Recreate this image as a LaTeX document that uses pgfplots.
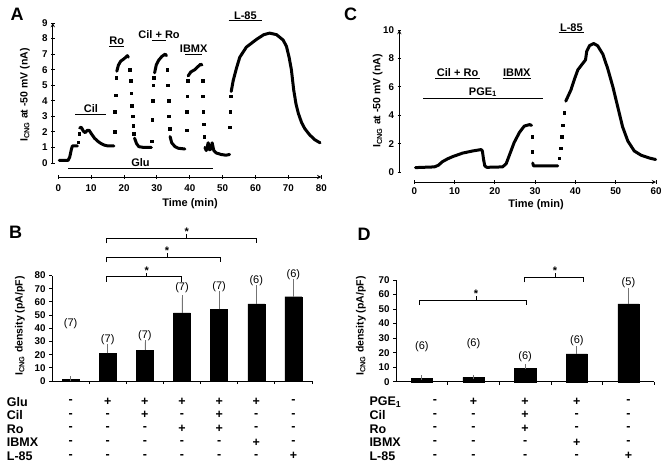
\documentclass[border=0pt]{standalone}
\usepackage{fontspec}
\setmainfont{Liberation Sans}
\usepackage{pgfplots}
\pgfplotsset{compat=1.18}

\newcommand{\tl}{\bfseries\fontsize{9.8}{10}\selectfont}
\newcommand{\an}{\bfseries\fontsize{11}{12}\selectfont}
\newcommand{\tb}{\bfseries\fontsize{12.5}{13}\selectfont}
\newcommand{\yl}{\bfseries\fontsize{10.5}{11}\selectfont}
\newcommand{\nn}{\fontsize{11}{12}\selectfont}
\newcommand{\pl}{\bfseries\fontsize{18}{18}\selectfont}

\pgfplotsset{
  panel/.style={
    scale only axis, anchor=south west, clip=false,
    axis lines=left, axis line style={-, line width=0.9pt},
    tick align=outside, major tick length=3.5pt,
    every tick/.style={black, line width=0.9pt},
    tick label style={font=\tl},
    /pgf/number format/assume math mode=true,
  },
  % detached time axis drawn below a trace panel
  timeaxis/.style={panel, height=10pt, ymin=0, ymax=1,
    axis x line=bottom, axis y line=none},
  trace/.style={black, line width=3pt, line join=round, line cap=round},
  dots/.style={black, only marks, mark=square*, mark size=1.3pt},
  bars/.style={ybar, fill=black, draw=black,
    error bars/.cd, y dir=plus, y explicit,
    error bar style={black!55, line width=0.7pt},
    error mark options={black!55, line width=0.7pt, mark size=2.2pt}},
}

% significance bracket: x1, x2, y, x of centre tick
\newcommand{\brk}[4]{%
  \draw[line width=0.8pt] ([yshift=-5pt]axis cs:#1,#3) -- (axis cs:#1,#3)
     -- (axis cs:#2,#3) -- ([yshift=-5pt]axis cs:#2,#3);
  \draw[line width=0.8pt] (axis cs:#4,#3) -- ([yshift=4pt]axis cs:#4,#3);
  \node[font=\bfseries\fontsize{11}{11}\selectfont, inner sep=0pt, anchor=base]
     at ([yshift=2.5pt]axis cs:#4,#3) {*};}

% drug application bar: x1, x2, y, label
\newcommand{\drugbar}[4]{%
  \draw[line width=1pt] (axis cs:#1,#3) -- (axis cs:#2,#3);
  \node[font=\an, anchor=south, inner sep=1.2pt] at (axis cs:{(#1+#2)/2},#3) {#4};}

\begin{document}
\begin{tikzpicture}[x=1pt,y=1pt]

% ---------------- A ----------------
\begin{axis}[panel, at={(52.8pt,-163pt)}, width=268.5pt, height=140pt,
  xmin=-1.67, xmax=80, ymin=0, ymax=9, ytick={0,1,...,9},
  axis x line=none, axis y line=left]
\addplot[trace] coordinates {(0.3,0.17) (3.0,0.17) (3.5,0.4) (4.0,0.9) (4.3,1.1) (5.8,1.1)};
\addplot[dots] coordinates {(6.1,1.35) (6.3,1.9)};
\addplot[trace] coordinates {(6.5,2.25) (7.0,2.3) (7.6,2.05) (8.2,1.95) (8.8,2.1) (9.4,2.1)
  (10.0,1.9) (11,1.6) (12,1.4) (13,1.25) (14,1.15) (15,1.1) (16.9,1.1)};
\addplot[dots] coordinates {(17.2,2.0) (17.2,3.3) (17.4,4.35) (17.6,5.5)};
\addplot[trace] coordinates {(17.8,5.9) (18.3,6.3) (19,6.55) (20,6.7) (20.5,6.8) (21.0,6.9) (21.3,6.8)};
\addplot[dots] coordinates {(21.8,6.0) (22.0,5.3) (22.2,4.5) (22.4,3.7) (22.6,3.0) (22.8,2.4) (23.0,1.9)};
\addplot[trace] coordinates {(23.2,1.6) (23.8,1.25) (24.5,1.05) (26,1.0) (28.3,1.0)};
\addplot[dots] coordinates {(28.5,1.4) (28.6,2.8) (28.7,4.0) (28.9,5.0) (29.1,5.5)};
\addplot[trace] coordinates {(29.3,5.8) (29.8,6.3) (30.5,6.6) (31.5,6.85) (32.5,7.0) (32.9,6.9)};
\addplot[dots] coordinates {(33.1,6.0) (33.3,5.0) (33.5,4.0) (33.6,3.0) (33.8,2.2)};
\addplot[trace] coordinates {(34.0,1.7) (34.5,1.3) (35.5,1.05) (36.5,0.95) (38.5,0.9)};
\addplot[dots] coordinates {(39.0,2.1) (39.1,3.3) (39.2,4.3) (39.3,5.3)};
\addplot[trace] coordinates {(39.5,5.6) (40.3,5.85) (41.5,6.0) (42.5,6.2) (43.3,6.35) (43.7,6.3)};
\addplot[dots] coordinates {(43.9,5.3) (44.0,4.3) (44.1,3.3) (44.2,2.5) (44.4,1.7)};
\addplot[trace] coordinates {(44.6,1.0) (45.0,0.8) (45.6,1.3) (46.0,0.85) (46.4,0.9) (46.8,1.3)
  (47.3,0.8) (48,0.65) (49.5,0.55) (51,0.5) (52.1,0.55)};
\addplot[dots] coordinates {(52.2,2.3) (52.3,3.3) (52.4,4.3)};
\addplot[trace] coordinates {(52.6,4.6) (53.2,5.3) (54.2,6.1) (55.2,6.8) (57.2,7.45) (60.3,7.95)
  (62.5,8.25) (64.3,8.35) (66.4,8.25) (68.4,7.9) (69.4,7.5) (70.2,6.8) (70.9,6.0) (71.6,4.7)
  (72.3,3.8) (73,3.2) (74,2.6) (75,2.2) (76.5,1.8) (78,1.5) (79.6,1.3)};
\drugbar{3}{47}{-0.35}{Glu}
\drugbar{5.2}{14.6}{3.15}{Cil}
\drugbar{15.5}{20}{7.5}{Ro}
\drugbar{28.5}{32.8}{7.9}{Cil + Ro}
\drugbar{38.6}{43.8}{7.0}{IBMX}
\drugbar{51.8}{62}{9.15}{L-85}
\end{axis}
\begin{axis}[timeaxis, at={(58.3pt,-177pt)}, width=263pt,
  xmin=0, xmax=80, xtick={0,10,...,80}, xticklabel style={yshift=-2.5pt}]
\end{axis}
\node[font=\pl] at (17,-14) {A};
\node[font=\yl, rotate=90] at (25,-95) {I\textsubscript{CNG} at -50 mV (nA)};
\node[font=\an] at (190,-203.5) {Time (min)};

% ---------------- C ----------------
\begin{axis}[panel, at={(399.3pt,-172.3pt)}, width=256.7pt, height=142.3pt,
  xmin=-3.72, xmax=60, ymin=0, ymax=10, ytick={0,2,...,10},
  axis x line=none, axis y line=left]
\addplot[trace] coordinates {(0.3,0.33) (5.0,0.38) (6.0,0.5) (7.0,0.75) (8.3,0.95) (9.5,1.1)
  (12,1.35) (14.5,1.5) (16.6,1.6) (16.9,1.5) (17.2,0.9) (17.5,0.45) (18,0.35) (21.9,0.38)
  (22.8,0.6) (23.6,1.2) (24.8,2.1) (26.1,2.8) (27.3,3.25) (28.6,3.35) (29.1,3.3)};
\addplot[dots] coordinates {(29.3,2.5) (29.3,1.45)};
\addplot[trace] coordinates {(29.4,0.65) (29.6,0.45) (35.6,0.45)};
\addplot[dots] coordinates {(36.0,1.0) (36.3,1.7) (36.6,2.5) (36.9,3.3) (37.2,4.2)};
\addplot[trace] coordinates {(37.6,5.0) (38.9,5.8) (39.7,6.5) (40.6,7.2) (41.4,7.5) (42.5,7.9)
  (42.8,8.5) (43.5,8.9) (44.5,9.05) (45.5,8.9) (46.8,8.3) (48,7.3) (49.3,6.0) (50.5,4.6)
  (51.7,3.2) (53,2.2) (54.6,1.5) (56.3,1.2) (58.4,1.0) (59.9,0.9)};
\drugbar{2.2}{31.9}{5.2}{PGE\textsubscript{1}}
\drugbar{5.2}{16.3}{6.6}{Cil + Ro}
\drugbar{21.9}{29}{6.6}{IBMX}
\drugbar{35.8}{42.2}{9.8}{L-85}
\end{axis}
\begin{axis}[timeaxis, at={(414.3pt,-182pt)}, width=241.7pt,
  xmin=0, xmax=60, xtick={0,10,...,60}]
\end{axis}
\node[font=\pl] at (350.5,-14) {C};
\node[font=\yl, rotate=90] at (377.7,-101) {I\textsubscript{CNG} at -50 mV (nA)};
\node[font=\an] at (536,-205) {Time (min)};

% ---------------- B ----------------
\begin{axis}[panel, at={(52pt,-381pt)}, width=260pt, height=105.5pt,
  xmin=-0.5, xmax=6.5, ymin=0, ymax=80,
  ytick={0,10,...,80}, xtick={0.5,1.5,...,6.5}, xticklabels={},
  major tick length=3pt, bar width=17pt]
\addplot[bars] coordinates {
  (0,1.5) +- (0,0.5)
  (1,21.0) +- (0,5.5)
  (2,23.5) +- (0,5.8)
  (3,51.7) +- (0,11.5)
  (4,54.4) +- (0,12.1)
  (5,58.4) +- (0,12.6)
  (6,63.9) +- (0,12.1)};
\node[font=\nn] at (axis cs:0,43.7) {(7)};
\node[font=\nn] at (axis cs:1,31.6) {(7)};
\node[font=\nn] at (axis cs:2,34.4) {(7)};
\node[font=\nn] at (axis cs:3,70.7) {(7)};
\node[font=\nn] at (axis cs:4,71.5) {(7)};
\node[font=\nn] at (axis cs:5,76) {(6)};
\node[font=\nn] at (axis cs:6,81) {(6)};
\brk{0.97}{2.99}{79.1}{2.05}
\brk{0.97}{4.04}{93.8}{2.6}
\brk{0.97}{5.01}{108.2}{3.13}
\end{axis}
\node[font=\pl] at (15.5,-232.5) {B};
\node[font=\yl, rotate=90] at (20,-326) {I\textsubscript{CNG} density (pA/pF)};
\foreach \lbl [count=\r from 0] in {Glu,Cil,Ro,IBMX,L-85}
  \node[font=\tb, anchor=west, inner sep=0pt] at (6.7,{-401.7-13.6*\r}) {\lbl};
\foreach \row [count=\r from 0] in {{-,+,+,+,+,+,-},{-,-,+,-,+,-,-},{-,-,-,+,+,-,-},{-,-,-,-,-,+,-},{-,-,-,-,-,-,+}}
  \foreach \s [count=\c from 0] in \row
    \node[font=\tb, inner sep=0pt] at ({70.6+37.14*\c},{-401.7-13.6*\r}) {\s};

% ---------------- D ----------------
\begin{axis}[panel, at={(396pt,-381.7pt)}, width=258.3pt, height=101.7pt,
  xmin=-0.5, xmax=4.5, ymin=0, ymax=70,
  ytick={0,10,...,70}, xtick={0.5,1.5,...,4.5}, xticklabels={},
  major tick length=3pt, bar width=21.3pt]
\addplot[bars] coordinates {
  (0,2.3) +- (0,0.5)
  (1,2.9) +- (0,0.4)
  (2,9.0) +- (0,1.8)
  (3,19.1) +- (0,3.9)
  (4,53.5) +- (0,9.6)};
\node[font=\nn] at (axis cs:0,24.1) {(6)};
\node[font=\nn] at (axis cs:1,26) {(6)};
\node[font=\nn] at (axis cs:2,17.2) {(6)};
\node[font=\nn] at (axis cs:3,28) {(6)};
\node[font=\nn] at (axis cs:4,68.1) {(5)};
\brk{-0.05}{2.03}{56.2}{1.05}
\brk{1.98}{3.13}{71.9}{2.58}
\end{axis}
\node[font=\pl] at (364,-234) {D};
\node[font=\yl, rotate=90] at (361,-326) {I\textsubscript{CNG} density (pA/pF)};
\foreach \lbl [count=\r from 0] in {PGE\textsubscript{1},Cil,Ro,IBMX,L-85}
  \node[font=\tb, anchor=west, inner sep=0pt] at (369.3,{-401.7-13.6*\r}) {\lbl};
\foreach \row [count=\r from 0] in {{-,+,+,+,-},{-,-,+,-,-},{-,-,+,-,-},{-,-,-,+,-},{-,-,-,-,+}}
  \foreach \s [count=\c from 0] in \row
    \node[font=\tb, inner sep=0pt] at ({\c==0 ? 435 : 421.8+51.67*\c},{-401.7-13.6*\r}) {\s};

\pgfresetboundingbox
\path[use as bounding box] (0,0) rectangle (672,-467);
\end{tikzpicture}
\end{document}
